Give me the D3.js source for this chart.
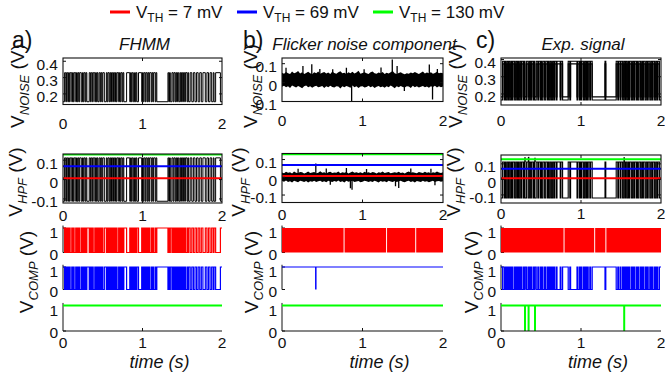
<!DOCTYPE html>
<html>
<head>
<meta charset="utf-8">
<script src="https://cdn.jsdelivr.net/npm/d3@7/dist/d3.min.js"></script>
<style>
html,body{margin:0;padding:0;background:#fff;}
svg{display:block;}
text{font-family:"Liberation Sans",Arial,Helvetica,sans-serif;fill:#111;}
</style>
</head>
<body>
<svg id="fig" width="665" height="378"></svg>
<script>
// ---------------- data ----------------
const T_DOMAIN = [0, 2];
const timeTicks = [0, 1, 2];
const vthValues = [0.007, 0.069, 0.130];          // comparator thresholds (V)
const vthLabels = ["7 mV", "69 mV", "130 mV"];
const compTicks = [0, 1];
const rtnNoiseTicks = [0.2, 0.3, 0.4];
const flickerNoiseTicks = [-0.1, 0, 0.1];
const hpfTicks = [-0.1, 0, 0.1];

// a) FHMM: time intervals (s) spent in the high state
const fhmmHigh = [[0.02,0.035],[0.045,0.06],[0.07,0.08],[0.09,0.11],[0.12,0.13],[0.14,0.16],[0.17,0.18],[0.19,0.2],[0.21,0.23],[0.245,0.255],[0.265,0.28],[0.29,0.3],[0.33,0.345],[0.355,0.37],[0.38,0.4],[0.41,0.42],[0.43,0.44],[0.455,0.47],[0.48,0.49],[0.5,0.52],[0.545,0.555],[0.565,0.58],[0.59,0.6],[0.61,0.625],[0.635,0.65],[0.66,0.67],[0.68,0.7],[0.71,0.72],[0.73,0.745],[0.755,0.765],[0.8,0.84],[0.85,0.86],[0.87,0.885],[0.9,0.91],[0.92,0.93],[0.95,0.99],[1.0,1.01],[1.02,1.035],[1.045,1.06],[1.07,1.08],[1.09,1.11],[1.12,1.13],[1.14,1.16],[1.17,1.18],[1.32,1.33],[1.34,1.35],[1.37,1.385],[1.395,1.41],[1.42,1.43],[1.44,1.455],[1.47,1.48],[1.49,1.505],[1.515,1.53],[1.54,1.56],[1.57,1.58],[1.6,1.62],[1.64,1.66],[1.68,1.7],[1.72,1.74],[1.76,1.79],[1.81,1.83],[1.85,1.87],[1.89,1.9],[1.92,1.98]];
const fhmmNoiseLevels = [0.152, 0.33];   // [low, high] V
const fhmmHpfLevels = [-0.112, 0.112];

// b) flicker noise: envelope of the trace sampled every 25 ms, plus isolated spikes [t, V]
const flickerTimes = d3.range(0, 2.0001, 0.025);
const flickerNoiseHi = [0.052,0.047,0.056,0.050,0.045,0.058,0.049,0.053,0.061,0.048,
 0.054,0.046,0.051,0.057,0.049,0.044,0.055,0.050,0.059,0.047,
 0.052,0.056,0.048,0.053,0.045,0.058,0.051,0.047,0.054,0.060,
 0.049,0.052,0.046,0.055,0.050,0.057,0.048,0.053,0.063,0.047,
 0.051,0.055,0.049,0.046,0.054,0.058,0.050,0.047,0.053,0.049,
 0.056,0.045,0.052,0.048,0.055,0.061,0.049,0.046,0.051,0.054,
 0.048,0.044,0.050,0.047,0.053,0.049,0.056,0.051,0.046,0.052,
 0.058,0.048,0.053,0.050,0.055,0.047,0.051,0.057,0.049,0.052,0.050];
const flickerNoiseLo = [-0.022,-0.017,-0.025,-0.019,-0.028,-0.016,-0.021,-0.026,-0.018,-0.023,
 -0.030,-0.020,-0.016,-0.024,-0.019,-0.027,-0.021,-0.017,-0.025,-0.022,
 -0.018,-0.029,-0.020,-0.024,-0.017,-0.023,-0.026,-0.019,-0.021,-0.031,
 -0.020,-0.025,-0.018,-0.022,-0.027,-0.016,-0.024,-0.020,-0.028,-0.021,
 -0.019,-0.026,-0.023,-0.017,-0.025,-0.020,-0.029,-0.022,-0.018,-0.024,
 -0.021,-0.027,-0.019,-0.025,-0.016,-0.022,-0.030,-0.020,-0.024,-0.018,
 -0.023,-0.026,-0.019,-0.021,-0.028,-0.017,-0.024,-0.020,-0.026,-0.022,
 -0.018,-0.025,-0.021,-0.027,-0.019,-0.023,-0.017,-0.026,-0.020,-0.024,-0.021];
const flickerNoiseBase = 0.015;
const flickerNoiseSpikes = [[0.05,0.078],[0.26,0.088],[0.37,0.097],[0.47,0.072],[0.63,0.07],[0.8,0.078],[0.865,-0.1],[1.02,0.07],[1.23,0.08],[1.37,0.122],[1.43,0.088],[1.52,-0.045],[1.83,0.095],[1.87,-0.09],[1.93,0.072]];
const flickerHpfHi = [0.027,0.023,0.031,0.025,0.029,0.022,0.033,0.026,0.024,0.030,
 0.028,0.021,0.026,0.032,0.024,0.027,0.030,0.023,0.025,0.034,
 0.026,0.029,0.022,0.028,0.031,0.024,0.027,0.025,0.033,0.023,
 0.028,0.026,0.030,0.022,0.027,0.032,0.025,0.029,0.024,0.028,
 0.023,0.031,0.026,0.028,0.024,0.030,0.027,0.022,0.029,0.025,
 0.032,0.024,0.027,0.030,0.023,0.026,0.029,0.025,0.031,0.024,
 0.027,0.022,0.028,0.033,0.025,0.029,0.026,0.023,0.030,0.027,
 0.024,0.031,0.026,0.028,0.022,0.029,0.025,0.032,0.027,0.024,0.028];
const flickerHpfLo = [-0.021,-0.025,-0.018,-0.027,-0.022,-0.029,-0.020,-0.024,-0.028,-0.019,
 -0.023,-0.026,-0.021,-0.030,-0.022,-0.025,-0.019,-0.027,-0.023,-0.020,
 -0.026,-0.022,-0.028,-0.019,-0.024,-0.027,-0.021,-0.025,-0.018,-0.026,
 -0.023,-0.029,-0.020,-0.025,-0.022,-0.019,-0.027,-0.024,-0.021,-0.028,
 -0.025,-0.020,-0.023,-0.027,-0.022,-0.026,-0.019,-0.024,-0.029,-0.021,
 -0.025,-0.022,-0.028,-0.020,-0.024,-0.026,-0.021,-0.027,-0.023,-0.019,
 -0.025,-0.028,-0.022,-0.020,-0.026,-0.023,-0.029,-0.021,-0.024,-0.027,
 -0.020,-0.025,-0.022,-0.028,-0.024,-0.019,-0.026,-0.023,-0.021,-0.025,-0.022];
const flickerHpfBase = 0.002;
const flickerHpfSpikes = [[0.2,0.048],[0.42,0.078],[0.55,0.05],[0.6,-0.042],[0.8,0.052],[0.85,-0.062],[0.87,-0.07],[1.05,0.046],[1.41,-0.05],[1.45,-0.06],[1.6,0.05],[1.85,0.048],[1.9,-0.045]];
// spans where the 7 mV comparator toggles faster than the time resolution
const flickerRedBusy = [[0,0.765],[0.777,1.293],[1.305,1.655],[1.667,2]];

// c) experimental signal: high-state intervals (s), HPF spikes [t, V]
const expHigh = [[0.02,0.04],[0.05,0.06],[0.075,0.09],[0.1,0.115],[0.13,0.14],[0.15,0.17],[0.185,0.2],[0.21,0.22],[0.235,0.25],[0.26,0.28],[0.29,0.3],[0.32,0.34],[0.355,0.37],[0.38,0.4],[0.41,0.42],[0.44,0.46],[0.47,0.49],[0.5,0.51],[0.525,0.545],[0.56,0.58],[0.59,0.6],[0.615,0.63],[0.645,0.66],[0.67,0.69],[0.7,0.74],[0.75,0.77],[0.84,0.86],[0.87,0.95],[0.96,0.98],[0.99,1.0],[1.01,1.03],[1.045,1.06],[1.07,1.08],[1.09,1.11],[1.12,1.14],[1.3,1.31],[1.44,1.46],[1.47,1.49],[1.5,1.52],[1.535,1.55],[1.56,1.575],[1.59,1.6],[1.61,1.63],[1.645,1.66],[1.67,1.69],[1.7,1.71],[1.725,1.745],[1.76,1.77],[1.78,1.8],[1.815,1.83],[1.84,1.86],[1.875,1.89],[1.9,1.92],[1.935,1.95],[1.96,1.98]];
// state levels as [min, max] of the noisy plateau (V)
const expNoiseLow = [0.165, 0.183];
const expNoiseHigh = [0.375, 0.39];
const expHpfLevels = [-0.12, 0.112];
const expHpfSpikes = [[0.3,0.142],[0.345,0.145],[0.425,0.14],[1.54,0.143]];
const expRedBusy = [[0,0.782],[0.794,1.165],[1.177,1.305],[1.317,2]];

// ---------------- layout / style ----------------
const COLORS = ["#ff0000", "#0000ff", "#00ff00"];
const TICK_FS = 15.5, LABEL_FS = 19, SUB_FS = 13;
const colRange = {a: [63, 222], b: [282, 443], c: [501, 661]};
const noiseBox = {
  a: {range: [104.5, 58], domain: [0.135, 0.42], ticks: rtnNoiseTicks, xLabelY: 129},
  b: {range: [101.5, 58], domain: [-0.1, 0.13], ticks: flickerNoiseTicks, xLabelY: 126},
  c: {range: [105, 58], domain: [0.136, 0.409], ticks: rtnNoiseTicks, xLabelY: 126}
};
const hpfBox = {
  a: {range: [203, 154], domain: [-0.121, 0.132], ticks: hpfTicks, xLabelY: 221},
  b: {range: [202.5, 153.5], domain: [-0.142, 0.134], ticks: hpfTicks, xLabelY: 220},
  c: {range: [203, 155], domain: [-0.152, 0.157], ticks: hpfTicks, xLabelY: 219}
};
const compRanges = [[252.5, 228], [289.5, 267], [331, 305.5]];
const compLabelShift = {0: 2, 1: 5};      // extra baseline drop of the 0 / 1 labels
const compXLabelY = 348;
const yLabelX = {a: [23.5, 22, 33], b: [257, 245, 258], c: [462, 460, 478]};
const yLabelCY = [86, 182, 272];
const tagPos = {a: [12, 48], b: [243, 48], c: [476, 48]};
const titleY = 50;
const timeLabelY = 368;

const svg = d3.select("#fig");

function fmtTick(v) { return v === 0 ? "0" : (v < 0 ? "-" : "") + d3.format(".1f")(Math.abs(v)); }

function stepSeries(intervals, lowVal, highVal) {
  const pts = [[T_DOMAIN[0], lowVal]];
  intervals.forEach(([s, e]) => { pts.push([s, lowVal], [s, highVal], [e, highVal], [e, lowVal]); });
  pts.push([T_DOMAIN[1], lowVal]);
  return pts;
}
function comparator(level, vth) { return level < vth ? 1 : 0; }

function clipFor(id, x, y) {
  const [xa, xb] = x.range(), [yb, ya] = y.range();
  svg.append("clipPath").attr("id", id).append("rect")
    .attr("x", xa).attr("y", ya).attr("width", xb - xa).attr("height", yb - ya);
  return "url(#" + id + ")";
}

function frame(g, x, y, ticks, xLabelY) {
  const [xa, xb] = x.range(), [yb, ya] = y.range();
  g.append("rect").attr("x", xa).attr("y", ya).attr("width", xb - xa).attr("height", yb - ya)
    .attr("fill", "none").attr("stroke", "#111").attr("stroke-width", 1.1);
  [1].forEach(t => {
    g.append("line").attr("x1", x(t)).attr("x2", x(t)).attr("y1", yb).attr("y2", yb - 3).attr("stroke", "#111");
    g.append("line").attr("x1", x(t)).attr("x2", x(t)).attr("y1", ya).attr("y2", ya + 3).attr("stroke", "#111");
  });
  ticks.forEach(v => {
    g.append("line").attr("x1", xa).attr("x2", xa + 3).attr("y1", y(v)).attr("y2", y(v)).attr("stroke", "#111");
    g.append("line").attr("x1", xb).attr("x2", xb - 3).attr("y1", y(v)).attr("y2", y(v)).attr("stroke", "#111");
    g.append("text").attr("x", xa - 5).attr("y", y(v) + 0.35 * TICK_FS + 3)
      .attr("text-anchor", "end").attr("font-size", TICK_FS).text(fmtTick(v));
  });
  timeTicks.forEach(t => {
    g.append("text").attr("x", x(t)).attr("y", xLabelY).attr("text-anchor", "middle")
      .attr("font-size", TICK_FS).text(t);
  });
}

function yLabel(x, cy, sub) {
  const t = svg.append("text").attr("transform", `translate(${x},${cy}) rotate(-90)`)
    .attr("text-anchor", "middle").attr("font-size", LABEL_FS);
  t.append("tspan").text("V");
  t.append("tspan").attr("font-size", SUB_FS).attr("font-style", "italic").attr("dy", 5).text(sub);
  t.append("tspan").attr("dy", -5).text(" (V)");
}

// ---------------- legend ----------------
const legendDashX = [110, 237, 373];
vthLabels.forEach((lab, i) => {
  svg.append("line").attr("x1", legendDashX[i]).attr("x2", legendDashX[i] + 20)
    .attr("y1", 12).attr("y2", 12).attr("stroke", COLORS[i]).attr("stroke-width", 3);
  const t = svg.append("text").attr("x", legendDashX[i] + 26).attr("y", 18).attr("font-size", 17);
  t.append("tspan").text("V");
  t.append("tspan").attr("font-size", 12).attr("dy", 4).text("TH");
  t.append("tspan").attr("dy", -4).text(" = " + lab);
});

// ---------------- panels ----------------
const panels = [
  {id: "a", tag: "a)", title: "FHMM"},
  {id: "b", tag: "b)", title: "Flicker noise component"},
  {id: "c", tag: "c)", title: "Exp. signal"}
];

panels.forEach(p => {
  const x = d3.scaleLinear(T_DOMAIN, colRange[p.id]);
  const g = svg.append("g");
  const xa = colRange[p.id][0], xb = colRange[p.id][1];

  svg.append("text").attr("x", tagPos[p.id][0]).attr("y", tagPos[p.id][1])
    .attr("font-size", 23).text(p.tag);
  svg.append("text").attr("x", (xa + xb) / 2 + 2).attr("y", titleY).attr("text-anchor", "middle")
    .attr("font-size", 17).attr("font-style", "italic").text(p.title);

  // ---- row 1: V_NOISE ----
  const nb = noiseBox[p.id];
  const yN = d3.scaleLinear(nb.domain, nb.range);
  const lineN = d3.line().x(d => x(d[0])).y(d => yN(d[1]));
  const gN = g.append("g").attr("clip-path", clipFor("clipN" + p.id, x, yN));
  if (p.id === "a") {
    gN.append("path").attr("d", lineN(stepSeries(fhmmHigh, fhmmNoiseLevels[0], fhmmNoiseLevels[1])))
      .attr("fill", "none").attr("stroke", "#000").attr("stroke-width", 1);
  } else if (p.id === "b") {
    const band = flickerTimes.map((t, i) => ({t, lo: flickerNoiseLo[i], hi: flickerNoiseHi[i]}));
    gN.append("path").attr("d", d3.area().x(d => x(d.t)).y0(d => yN(d.lo)).y1(d => yN(d.hi))(band))
      .attr("fill", "#000");
    gN.selectAll("line.spk").data(flickerNoiseSpikes).join("line")
      .attr("x1", d => x(d[0])).attr("x2", d => x(d[0]))
      .attr("y1", yN(flickerNoiseBase)).attr("y2", d => yN(d[1]))
      .attr("stroke", "#000").attr("stroke-width", 1.3);
  } else {
    // noisy plateaus: trace drawn along both edges of each state's band
    [[expNoiseLow[0], expNoiseHigh[1]], [expNoiseLow[1], expNoiseHigh[0]]].forEach(([lo, hi]) => {
      gN.append("path").attr("d", lineN(stepSeries(expHigh, lo, hi)))
        .attr("fill", "none").attr("stroke", "#000").attr("stroke-width", 1.1);
    });
  }
  frame(g, x, yN, nb.ticks, nb.xLabelY);
  yLabel(yLabelX[p.id][0], yLabelCY[0], "NOISE");

  // ---- row 2: V_HPF with thresholds ----
  const hb = hpfBox[p.id];
  const yH = d3.scaleLinear(hb.domain, hb.range);
  const lineH = d3.line().x(d => x(d[0])).y(d => yH(d[1]));
  const gH = g.append("g").attr("clip-path", clipFor("clipH" + p.id, x, yH));
  if (p.id === "a") {
    gH.append("path").attr("d", lineH(stepSeries(fhmmHigh, fhmmHpfLevels[0], fhmmHpfLevels[1])))
      .attr("fill", "none").attr("stroke", "#000").attr("stroke-width", 1);
  } else if (p.id === "b") {
    const band = flickerTimes.map((t, i) => ({t, lo: flickerHpfLo[i], hi: flickerHpfHi[i]}));
    gH.append("path").attr("d", d3.area().x(d => x(d.t)).y0(d => yH(d.lo)).y1(d => yH(d.hi))(band))
      .attr("fill", "#000");
    gH.selectAll("line.spk").data(flickerHpfSpikes).join("line")
      .attr("x1", d => x(d[0])).attr("x2", d => x(d[0]))
      .attr("y1", yH(flickerHpfBase)).attr("y2", d => yH(d[1]))
      .attr("stroke", "#000").attr("stroke-width", 1.3);
  } else {
    gH.append("path").attr("d", lineH(stepSeries(expHigh, expHpfLevels[0], expHpfLevels[1])))
      .attr("fill", "none").attr("stroke", "#000").attr("stroke-width", 1.1);
    gH.selectAll("line.spk").data(expHpfSpikes).join("line")
      .attr("x1", d => x(d[0])).attr("x2", d => x(d[0]))
      .attr("y1", yH(expHpfLevels[1])).attr("y2", d => yH(d[1]))
      .attr("stroke", "#000").attr("stroke-width", 1.5);
  }
  [2, 1, 0].forEach(i => {
    gH.append("line").attr("x1", xa).attr("x2", xb).attr("y1", yH(vthValues[i])).attr("y2", yH(vthValues[i]))
      .attr("stroke", COLORS[i]).attr("stroke-width", 2);
  });
  frame(g, x, yH, hb.ticks, hb.xLabelY);
  yLabel(yLabelX[p.id][1], yLabelCY[1], "HPF");

  // ---- row 3: comparator outputs ----
  compRanges.forEach((rng, i) => {
    const yC = d3.scaleLinear([0, 1], rng);
    const lineC = d3.line().x(d => x(d[0])).y(d => yC(d[1]));
    const gc = g.append("g");
    gc.append("line").attr("x1", xa).attr("x2", xa).attr("y1", yC(0)).attr("y2", yC(1.1)).attr("stroke", "#111");
    compTicks.forEach(v => {
      gc.append("line").attr("x1", xa).attr("x2", xa + 3).attr("y1", yC(v)).attr("y2", yC(v)).attr("stroke", "#111");
      gc.append("text").attr("x", xa - 5).attr("y", yC(v) + 0.35 * TICK_FS + compLabelShift[v])
        .attr("text-anchor", "end").attr("font-size", TICK_FS).text(v);
    });
    const vth = vthValues[i], col = COLORS[i];
    if (p.id === "a") {
      const lo = comparator(fhmmHpfLevels[0], vth), hi = comparator(fhmmHpfLevels[1], vth);
      gc.append("path").attr("d", lineC(stepSeries(fhmmHigh, lo, hi)))
        .attr("fill", "none").attr("stroke", col).attr("stroke-width", i === 2 ? 2 : 1.2);
    } else {
      const busy = p.id === "b" ? flickerRedBusy : expRedBusy;
      if (i === 0) {
        gc.selectAll("rect").data(busy).join("rect")
          .attr("x", d => x(d[0])).attr("width", d => x(d[1]) - x(d[0]))
          .attr("y", yC(1)).attr("height", yC(0) - yC(1)).attr("fill", col);
      } else {
        let base;
        if (p.id === "b") base = [[0, 1], [2, 1]];
        else base = stepSeries(expHigh, comparator(expHpfLevels[0], vth), comparator(expHpfLevels[1], vth));
        gc.append("path").attr("d", lineC(base))
          .attr("fill", "none").attr("stroke", col).attr("stroke-width", i === 2 ? 2 : 1.2);
        const spikes = (p.id === "b" ? flickerHpfSpikes : expHpfSpikes).filter(s => s[1] >= vth);
        gc.selectAll("line.drop").data(spikes).join("line")
          .attr("x1", d => x(d[0])).attr("x2", d => x(d[0]))
          .attr("y1", yC(1)).attr("y2", yC(0))
          .attr("stroke", col).attr("stroke-width", i === 2 ? 2 : 1.5);
      }
    }
  });
  const yB = compRanges[2][0];
  g.append("line").attr("x1", xa).attr("x2", xb).attr("y1", yB).attr("y2", yB).attr("stroke", "#111").attr("stroke-width", 1.1);
  g.append("line").attr("x1", x(1)).attr("x2", x(1)).attr("y1", yB).attr("y2", yB - 3).attr("stroke", "#111");
  timeTicks.forEach(t => {
    g.append("text").attr("x", x(t)).attr("y", compXLabelY).attr("text-anchor", "middle")
      .attr("font-size", TICK_FS).text(t);
  });
  g.append("text").attr("x", (xa + xb) / 2 + 17).attr("y", timeLabelY).attr("text-anchor", "middle")
    .attr("font-size", 18).attr("font-style", "italic").text("time (s)");
  yLabel(yLabelX[p.id][2], yLabelCY[2], "COMP");
});
</script>
</body>
</html>
